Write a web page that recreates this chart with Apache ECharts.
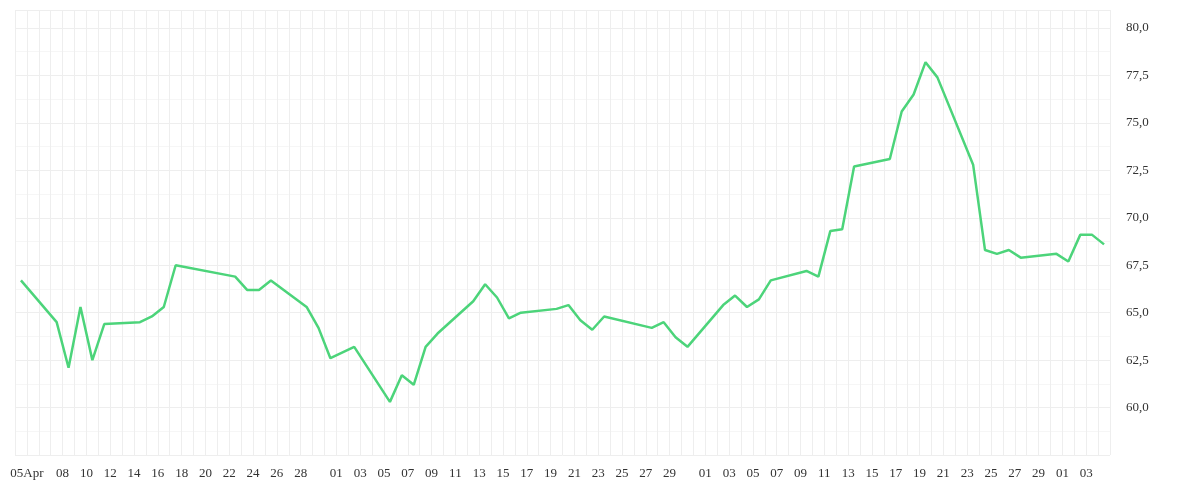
<!DOCTYPE html>
<html><head><meta charset="utf-8">
<script src="https://cdn.jsdelivr.net/npm/echarts@6/dist/echarts.min.js"></script>
<style>html,body{margin:0;padding:0;background:#fff}#c{width:1200px;height:500px}</style>
</head><body><div id="c"></div>
<script>
const dates = ["04-04","04-07","04-08","04-09","04-10","04-11","04-14","04-15","04-16","04-17","04-22","04-23","04-24","04-25","04-28","04-29","04-30","05-02","05-05","05-06","05-07","05-08","05-09","05-12","05-13","05-14","05-15","05-16","05-19","05-20","05-21","05-22","05-23","05-27","05-28","05-29","05-30","06-02","06-03","06-04","06-05","06-06","06-09","06-10","06-11","06-12","06-13","06-16","06-17","06-18","06-19","06-20","06-23","06-24","06-25","06-26","06-27","06-30","07-01","07-02","07-03","07-04"];
const values = [66.7,64.5,62.1,65.3,62.5,64.4,64.5,64.8,65.3,67.5,66.9,66.2,66.2,66.7,65.3,64.2,62.6,63.2,60.3,61.7,61.2,63.2,63.9,65.6,66.5,65.8,64.7,65.0,65.2,65.4,64.6,64.1,64.8,64.2,64.5,63.7,63.2,65.4,65.9,65.3,65.7,66.7,67.2,66.9,69.3,69.4,72.7,73.1,75.6,76.5,78.2,77.4,72.8,68.3,68.1,68.3,67.9,68.1,67.7,69.1,69.1,68.6];
const labelDates = ["04-05","04-08","04-10","04-12","04-14","04-16","04-18","04-20","04-22","04-24","04-26","04-28","05-01","05-03","05-05","05-07","05-09","05-11","05-13","05-15","05-17","05-19","05-21","05-23","05-25","05-27","05-29","06-01","06-03","06-05","06-07","06-09","06-11","06-13","06-15","06-17","06-19","06-21","06-23","06-25","06-27","06-29","07-01","07-03"];
const yTicks = [60,62.5,65,67.5,70,72.5,75,77.5,80];
const Y = "2025-";
const data = dates.map((d,i)=>[Date.parse(Y+d+"T12:00:00Z"), values[i]]);
const chart = echarts.init(document.getElementById('c'));
chart.setOption({
  useUTC: true,
  animation: false,
  grid: {left: 15, right: 90, top: 10, bottom: 45},
  xAxis: {
    type: 'time',
    min: Date.parse(Y+"04-04T00:00:00Z"),
    max: Date.parse(Y+"07-05T00:00:00Z"),
    interval: 86400000, minInterval: 86400000, maxInterval: 86400000,
    axisLine: {show: false}, axisTick: {show: false},
    splitLine: {show: true, lineStyle: {color: '#eeeeee'}},
    axisLabel: {
      hideOverlap: false, showMinLabel: true, showMaxLabel: true,
      color: '#333', fontFamily: 'Liberation Serif', fontSize: 13, margin: 12,
      formatter: function (v) {
        const d = new Date(v);
        const mm = String(d.getUTCMonth()+1).padStart(2,'0');
        const dd = String(d.getUTCDate()).padStart(2,'0');
        const k = mm+"-"+dd;
        if (labelDates.indexOf(k) < 0) return '';
        return k === labelDates[0] ? dd+'Apr' : dd;
      }
    }
  },
  yAxis: {
    type: 'value', position: 'right', min: 57.5, max: 80.95, interval: 2.5,
    axisLine: {show: false}, axisTick: {show: false},
    splitLine: {show: true, lineStyle: {color: '#eeeeee'}},
    minorSplitLine: {show: true, lineStyle: {color: '#f6f6f6'}},
    minorTick: {show: false, splitNumber: 2},
    axisLabel: {
      color: '#333', fontFamily: 'Liberation Serif', fontSize: 13, margin: 16,
      showMaxLabel: false,
      formatter: v => yTicks.indexOf(v) < 0 ? '' : v.toFixed(1).replace('.', ',')
    }
  },
  series: [{type: 'line', data: data, showSymbol: false, lineStyle: {color: '#4cd47a', width: 2.5}, itemStyle: {color: '#4cd47a'}}]
});
</script></body></html>
